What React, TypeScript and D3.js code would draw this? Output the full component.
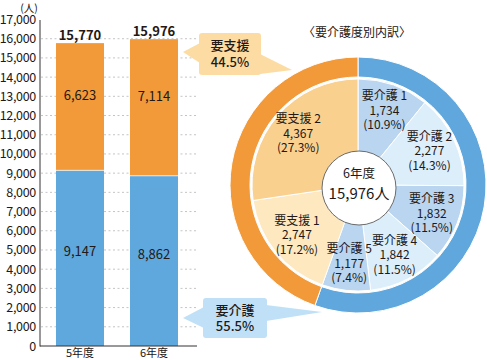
import React from "react";
import * as d3 from "d3";

const years = ["5年度", "6年度"];
const kaigoTotals = [9147, 8862];
const shienTotals = [6623, 7114];
const yTicks = [0, 1000, 2000, 3000, 4000, 5000, 6000, 7000, 8000, 9000, 10000, 11000, 12000, 13000, 14000, 15000, 16000, 17000];

const breakdownNames = ["要介護 1", "要介護 2", "要介護 3", "要介護 4", "要介護 5", "要支援 1", "要支援 2"];
const breakdownValues = [1734, 2277, 1832, 1842, 1177, 2747, 4367];
const breakdownColors = ["#b9d5f0", "#ddeefb", "#b9d5f0", "#ddeefb", "#b9d5f0", "#fde8c0", "#fad08f"];

const groupNames = ["要介護", "要支援"];
const groupValues = [8862, 7114];
const groupColors = ["#5fa7dd", "#f29a39"];

const FONT = "'Noto Sans CJK JP', 'Noto Sans', sans-serif";
const TEXT = "#231815";

export default function App() {
  const W = 487, H = 360;
  const x = d3.scaleBand<string>().domain(years).range([43, 191]).paddingInner(26 / 74).paddingOuter(13 / 74);
  const y = d3.scaleLinear().domain([0, 17000]).range([346, 19.5]);
  const fmt = d3.format(",");
  const pctFmt = (v: number, t: number) => (Math.round((v / t) * 1000) / 10).toFixed(1) + "%";

  const cx = 358, cy = 185;
  const total = d3.sum(breakdownValues);
  const pie = d3.pie<number>().sort(null).value((d) => d).startAngle(0).endAngle(2 * Math.PI);
  const innerArcs = pie(breakdownValues);
  const outerArcs = pie(groupValues);
  const innerArc = d3.arc<d3.PieArcDatum<number>>().innerRadius(0).outerRadius(106);
  const outerArc = d3.arc<d3.PieArcDatum<number>>().innerRadius(108).outerRadius(128);
  const labelArc = d3.arc<d3.PieArcDatum<number>>().innerRadius(79).outerRadius(79);

  return (
    <svg width={W} height={H} style={{ position: "absolute", left: 0, top: 0, background: "#fff" }} fontFamily={FONT}>
      {/* unit */}
      <text x={29} y={12} textAnchor="middle" fontSize={10.5} fill={TEXT}>(人)</text>
      {/* gridlines */}
      {yTicks.filter((t) => t > 0 && t < 17000).map((t) => (
        <line key={"g" + t} x1={41} x2={198} y1={y(t)} y2={y(t)} stroke="#c4c4c4" strokeWidth={1} strokeDasharray="2,2.5" />
      ))}
      {/* tick labels */}
      {yTicks.map((t) => (
        <text key={"t" + t} x={36} y={y(t)} dy="0.36em" textAnchor="end" fontSize={12.5} fill={TEXT} letterSpacing={-0.3}>{fmt(t)}</text>
      ))}
      {/* bars */}
      {years.map((yr, i) => {
        const bx = x(yr)!;
        const bw = x.bandwidth();
        const k = kaigoTotals[i];
        const s = shienTotals[i];
        const tot = k + s;
        return (
          <g key={yr}>
            <rect x={bx} y={y(k)} width={bw} height={y(0) - y(k)} fill="#5fa8dd" />
            <rect x={bx} y={y(tot)} width={bw} height={y(k) - y(tot)} fill="#f29a39" />
            <line x1={bx} x2={bx + bw} y1={y(k)} y2={y(k)} stroke="#fff" strokeWidth={1} opacity={0.7} />
            <text x={bx + bw / 2} y={y(k / 2) - 7} dy="0.36em" textAnchor="middle" fontSize={13} fill={TEXT}>{fmt(k)}</text>
            <text x={bx + bw / 2} y={y(k + s / 2) - 11} dy="0.36em" textAnchor="middle" fontSize={13} fill={TEXT}>{fmt(s)}</text>
            <text x={bx + bw / 2} y={y(tot) - 3} textAnchor="middle" fontSize={13} fontWeight={700} fill={TEXT}>{fmt(tot)}</text>
            <text x={bx + bw / 2} y={357} textAnchor="middle" fontSize={11} fill={TEXT}>{yr}</text>
          </g>
        );
      })}
      {/* axes */}
      <line x1={40} x2={40} y1={20} y2={346.5} stroke="#333" strokeWidth={1} />
      <line x1={40} x2={197} y1={346} y2={346} stroke="#333" strokeWidth={1} />

      {/* title */}
      <text x={357} y={37} textAnchor="middle" fontSize={12} fill={TEXT}>〈要介護度別内訳〉</text>

      {/* donut */}
      <g transform={`translate(${cx},${cy})`}>
        <circle r={128} fill="#fff" />
        {outerArcs.map((a, i) => (
          <path key={"o" + i} d={outerArc(a)!} fill={groupColors[i]} stroke="#fff" strokeWidth={1} />
        ))}
        {innerArcs.map((a, i) => (
          <path key={"i" + i} d={innerArc(a)!} fill={breakdownColors[i]} stroke="#fff" strokeWidth={1} />
        ))}
        {innerArcs.map((a, i) => {
          const [lx, ly] = labelArc.centroid(a);
          return (
            <text key={"l" + i} x={lx} y={ly} textAnchor="middle" fontSize={12} fill={TEXT}>
              <tspan x={lx} dy="-0.85em">{breakdownNames[i]}</tspan>
              <tspan x={lx} dy="1.2em">{fmt(breakdownValues[i])}</tspan>
              <tspan x={lx} dy="1.2em">({pctFmt(breakdownValues[i], total)})</tspan>
            </text>
          );
        })}
        <circle cx={1} cy={3} r={37} fill="#fff" stroke="#6b6b6b" strokeWidth={1} />
        <text x={1} y={-7} textAnchor="middle" fontSize={12.5} fill={TEXT}>6年度</text>
        <text x={1} y={14} textAnchor="middle" fontSize={15} fill={TEXT}>{fmt(total)}人</text>
      </g>

      {/* callout 要支援 */}
      <g fill="#fcdca3">
        <polygon points="200,43 183,52 200,63" />
        <polygon points="260,54 292,70 260,74" />
        <rect x={199} y={33} width={62} height={42} rx={3} />
      </g>
      <text x={230} y={50} textAnchor="middle" fontSize={13} fontWeight={500} fill={TEXT}>{groupNames[1]}</text>
      <text x={230} y={67} textAnchor="middle" fontSize={13} fontWeight={500} fill={TEXT}>{pctFmt(groupValues[1], total)}</text>

      {/* callout 要介護 */}
      <g fill="#bfe0f6">
        <polygon points="204,307 183,318 204,328" />
        <polygon points="266,305 322,312 266,321" />
        <rect x={203} y={298} width={64} height={40} rx={3} />
      </g>
      <text x={235} y={315} textAnchor="middle" fontSize={13} fontWeight={500} fill={TEXT}>{groupNames[0]}</text>
      <text x={235} y={331} textAnchor="middle" fontSize={13} fontWeight={500} fill={TEXT}>{pctFmt(groupValues[0], total)}</text>
    </svg>
  );
}
